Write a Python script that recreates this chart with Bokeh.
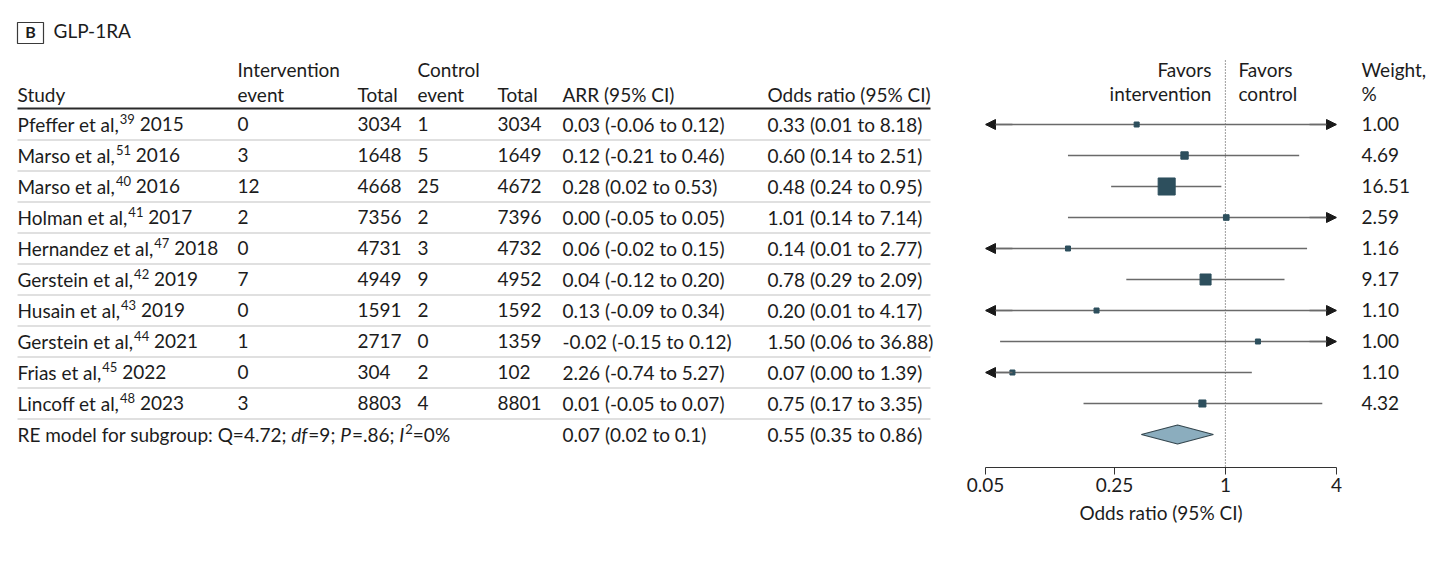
import glob
import os

from bokeh.core.properties import value
from bokeh.embed import file_html
from bokeh.layouts import row
from bokeh.models import Arrow, ColumnDataSource, FixedTicker, NormalHead, Range1d
from bokeh.plotting import figure
from bokeh.resources import INLINE

# ---------------------------------------------------------------- data
study_names = ["Pfeffer et al,", "Marso et al,", "Marso et al,", "Holman et al,",
               "Hernandez et al,", "Gerstein et al,", "Husain et al,",
               "Gerstein et al,", "Frias et al,", "Lincoff et al,"]
study_refs = ["39", "51", "40", "41", "47", "42", "43", "44", "45", "48"]
study_years = ["2015", "2016", "2016", "2017", "2018", "2019", "2019", "2021", "2022", "2023"]
int_events = [0, 3, 12, 2, 0, 7, 0, 1, 0, 3]
int_totals = [3034, 1648, 4668, 7356, 4731, 4949, 1591, 2717, 304, 8803]
ctl_events = [1, 5, 25, 2, 3, 9, 2, 0, 2, 4]
ctl_totals = [3034, 1649, 4672, 7396, 4732, 4952, 1592, 1359, 102, 8801]
arr_est = [0.03, 0.12, 0.28, 0.00, 0.06, 0.04, 0.13, -0.02, 2.26, 0.01]
arr_low = [-0.06, -0.21, 0.02, -0.05, -0.02, -0.12, -0.09, -0.15, -0.74, -0.05]
arr_high = [0.12, 0.46, 0.53, 0.05, 0.15, 0.20, 0.34, 0.12, 5.27, 0.07]
or_est = [0.33, 0.60, 0.48, 1.01, 0.14, 0.78, 0.20, 1.50, 0.07, 0.75]
or_low = [0.01, 0.14, 0.24, 0.14, 0.01, 0.29, 0.01, 0.06, 0.00, 0.17]
or_high = [8.18, 2.51, 0.95, 7.14, 2.77, 2.09, 4.17, 36.88, 1.39, 3.35]
weights = [1.00, 4.69, 16.51, 2.59, 1.16, 9.17, 1.10, 1.00, 1.10, 4.32]

pooled_arr = [0.07, 0.02, 0.1]
pooled_or = [0.55, 0.35, 0.86]
het_q, het_df, het_p, het_i2 = 4.72, 9, ".86", 0

or_ticks = [0.05, 0.25, 1, 4]
or_tick_labels = ["0.05", "0.25", "1", "4"]

# ---------------------------------------------------------------- style
FONT = "Lato"
FS = 19
SUP_FS = 13
INK = "#1c1c1c"
RULE = "#2a2a2a"
SEP = "#d6d6d6"
CI_COL = "#6a6a6a"
BOX_COL = "#2d4f5d"
DIAM_FILL = "#8badbe"
DIAM_LINE = "#34464e"

ROW_PX = 31.0          # row pitch in pixels
ROW0_PX = 124.0        # centre of the first study row
FRAME_H = 467          # plotting frame height (axis line sits at its bottom)
PLOT_H = 563
BOTTOM = PLOT_H - FRAME_H
Y_TOP = -ROW0_PX / ROW_PX
Y_BOT = (FRAME_H - ROW0_PX) / ROW_PX
BASE = 6.7 / ROW_PX    # baseline offset below row centre
TEXT_LIFT = 7.0 / ROW_PX  # renderer places alphabetic baselines this far low


def ry(px):
    """Convert a vertical pixel position into row units."""
    return (px - ROW0_PX) / ROW_PX


def _font_file(patterns):
    roots = ["/usr/share/fonts", "/usr/local/share/fonts",
             os.path.expanduser("~/.fonts"), os.path.expanduser("~/.local/share/fonts")]
    for pat in patterns:
        for root in roots:
            hits = sorted(glob.glob(os.path.join(root, "**", pat), recursive=True))
            if hits:
                return hits[0]
    return None


_font_cache = {}


def text_width(text, size, style="normal"):
    key = (style, size)
    if key not in _font_cache:
        fnt = None
        try:
            from PIL import ImageFont
            pats = ["Lato-Italic.ttf", "Lato*Italic*.ttf"] if style == "italic" else \
                   ["Lato-Regular.ttf", "Lato*Regular*.ttf"]
            path = _font_file(pats)
            if path:
                fnt = ImageFont.truetype(path, size)
        except Exception:
            fnt = None
        _font_cache[key] = fnt
    fnt = _font_cache[key]
    if fnt is None:
        return 0.52 * size * len(text)
    return fnt.getlength(text)


def base_fig(width, x_range, left=0, right=0, **kw):
    p = figure(width=width, height=PLOT_H, x_range=x_range,
               y_range=Range1d(Y_BOT, Y_TOP), toolbar_location=None,
               output_backend="svg", min_border=0, min_border_left=left,
               min_border_right=right, min_border_bottom=BOTTOM,
               y_axis_type=None, **kw)
    p.outline_line_color = None
    p.background_fill_color = "white"
    p.border_fill_color = "white"
    p.grid.visible = False
    return p


def add_text(p, xs, ys, texts, size=FS, align="left", style="normal", color=INK,
             x_offset=0, weight_bold=False):
    src = ColumnDataSource(dict(x=xs, y=[y - TEXT_LIFT for y in ys], t=texts))
    p.text(x="x", y="y", text="t", source=src, text_font=value(FONT),
           text_font_size=value(f"{size}px"),
           text_font_style="bold" if weight_bold else style,
           text_align=align, text_baseline="alphabetic", text_color=color,
           x_offset=x_offset)


n = len(study_names)
rows = list(range(n))
pooled_row = n

# ---------------------------------------------------------------- table panel
TABLE_W = 960
tbl = base_fig(TABLE_W, Range1d(0, TABLE_W), x_axis_type=None)

X_STUDY, X_IEV, X_ITOT, X_CEV, X_CTOT, X_ARR, X_OR, X_END = 17, 237, 357, 417, 497, 562, 767, 930

# panel tag and title
tbl.quad(left=[X_STUDY], right=[43], top=[ry(22)], bottom=[ry(43)],
         fill_color=None, line_color="#3a3a3a", line_width=1.2)
add_text(tbl, [30], [ry(38)], ["B"], size=16, align="center", weight_bold=True)
add_text(tbl, [53], [ry(37)], ["GLP-1RA"], size=19)

# column headings
hdr1 = ry(76)
hdr2 = ry(101)
add_text(tbl, [X_IEV, X_CEV], [hdr1, hdr1], ["Intervention", "Control"])
add_text(tbl, [X_STUDY, X_IEV, X_ITOT, X_CEV, X_CTOT, X_ARR, X_OR], [hdr2] * 7,
         ["Study", "event", "Total", "event", "Total", "ARR (95% CI)", "Odds ratio (95% CI)"])
tbl.segment(x0=[X_STUDY], x1=[X_END], y0=[ry(108)], y1=[ry(108)],
            line_color=RULE, line_width=2)

# row separators
sep_y = [r + 0.5 for r in rows]
tbl.segment(x0=[X_STUDY] * n, x1=[X_END] * n, y0=sep_y, y1=sep_y,
            line_color=SEP, line_width=1.5)

# study labels with superscript reference numbers
name_x, sup_x, year_x = [], [], []
for nm, rf in zip(study_names, study_refs):
    w_name = text_width(nm, FS)
    w_sup = text_width(rf, SUP_FS)
    w_sp = text_width(" ", FS)
    name_x.append(X_STUDY)
    sup_x.append(X_STUDY + w_name + 1)
    year_x.append(X_STUDY + w_name + 1 + w_sup + w_sp)
base_y = [r + BASE for r in rows]
add_text(tbl, name_x, base_y, study_names)
add_text(tbl, sup_x, [b - 4.8 / ROW_PX for b in base_y], study_refs, size=SUP_FS)
add_text(tbl, year_x, base_y, study_years)

# numeric columns
fmt_ci = lambda e, lo, hi: f"{e:.2f} ({lo:.2f} to {hi:.2f})"
add_text(tbl, [X_IEV] * n, base_y, [str(v) for v in int_events])
add_text(tbl, [X_ITOT] * n, base_y, [str(v) for v in int_totals])
add_text(tbl, [X_CEV] * n, base_y, [str(v) for v in ctl_events])
add_text(tbl, [X_CTOT] * n, base_y, [str(v) for v in ctl_totals])
add_text(tbl, [X_ARR] * n, base_y, [fmt_ci(*v) for v in zip(arr_est, arr_low, arr_high)])
add_text(tbl, [X_OR] * n, base_y, [fmt_ci(*v) for v in zip(or_est, or_low, or_high)])

# pooled (random-effects) row
py_base = pooled_row + BASE
segments = [
    (f"RE model for subgroup: Q={het_q}; ", "normal", FS, 0.0),
    ("df", "italic", FS, 0.0),
    (f"={het_df}; ", "normal", FS, 0.0),
    ("P", "italic", FS, 0.0),
    (f"={het_p}; ", "normal", FS, 0.0),
    ("I", "italic", FS, 0.0),
    ("2", "normal", SUP_FS, 4.8),
    (f"={het_i2}%", "normal", FS, 0.0),
]
cx = X_STUDY
for txt, sty, sz, lift in segments:
    add_text(tbl, [cx], [py_base - lift / ROW_PX], [txt], size=sz, style=sty)
    cx += text_width(txt, sz, sty) + (1 if sty == "italic" else 0)
add_text(tbl, [X_ARR], [py_base],
         ["{:g} ({:g} to {:g})".format(*pooled_arr)])
add_text(tbl, [X_OR], [py_base], [fmt_ci(*pooled_or)])

# ---------------------------------------------------------------- forest panel
AX_MIN, AX_MAX = or_ticks[0], or_ticks[-1]
fp = base_fig(390, Range1d(AX_MIN, AX_MAX), left=25, right=14, x_axis_type="log")

# line of no effect
fp.segment(x0=[1], x1=[1], y0=[ry(60)], y1=[Y_BOT], line_color="#555555",
           line_width=1.2, line_dash="1 2")

# confidence intervals, clipped to the axis with arrows where they run off
ci_lo = [max(v, AX_MIN) for v in or_low]
ci_hi = [min(v, AX_MAX) for v in or_high]
fp.segment(x0=ci_lo, x1=ci_hi, y0=rows, y1=rows, line_color=CI_COL, line_width=1.5)

ax0, ax1, ay = [], [], []
for r, lo, hi in zip(rows, or_low, or_high):
    if lo < AX_MIN:
        ax0.append(AX_MIN * 1.4); ax1.append(AX_MIN); ay.append(r)
    if hi > AX_MAX:
        ax0.append(AX_MAX / 1.4); ax1.append(AX_MAX); ay.append(r)
arrow_src = ColumnDataSource(dict(x0=ax0, x1=ax1, y=ay))
fp.add_layout(Arrow(end=NormalHead(size=10, fill_color="#1a1a1a", line_color="#1a1a1a",
                                   line_width=1),
                    x_start="x0", y_start="y", x_end="x1", y_end="y",
                    source=arrow_src, line_color=CI_COL, line_width=1.5))

# study estimates, box area growing with weight
box_sizes = [max(5.0, 3.5 + 0.82 * w) for w in weights]
fp.scatter(x=or_est, y=rows, size=box_sizes, marker="square",
           fill_color=BOX_COL, line_color=BOX_COL)

# pooled estimate diamond
half_h = 9.5 / ROW_PX
fp.patch(x=[pooled_or[1], pooled_or[0], pooled_or[2], pooled_or[0]],
         y=[pooled_row, pooled_row - half_h, pooled_row, pooled_row + half_h],
         fill_color=DIAM_FILL, line_color=DIAM_LINE, line_width=1.2)

# direction captions
add_text(fp, [1, 1], [ry(76), ry(100)], ["Favors", "intervention"], align="right",
         x_offset=-14)
add_text(fp, [1, 1], [ry(76), ry(100)], ["Favors", "control"], align="left",
         x_offset=13)

ax = fp.xaxis[0]
ax.ticker = FixedTicker(ticks=or_ticks)
ax.major_label_overrides = dict(zip(or_ticks, or_tick_labels))
ax.minor_tick_line_color = None
ax.major_tick_in = 0
ax.major_tick_out = 7
ax.axis_line_color = "#333333"
ax.major_tick_line_color = "#333333"
ax.axis_line_width = 1.2
ax.major_label_text_font = FONT
ax.major_label_text_font_size = f"{FS}px"
ax.major_label_text_color = INK
ax.major_label_standoff = 3
ax.axis_label = "Odds ratio (95% CI)"
ax.axis_label_text_font = FONT
ax.axis_label_text_font_size = f"{FS}px"
ax.axis_label_text_font_style = "normal"
ax.axis_label_text_color = INK
ax.axis_label_standoff = 6

# ---------------------------------------------------------------- weight column
wp = base_fig(1456 - TABLE_W - 390, Range1d(0, 106), x_axis_type=None)
add_text(wp, [11, 11], [ry(76), ry(100)], ["Weight,", "%"])
add_text(wp, [11] * n, base_y, [f"{w:.2f}" for w in weights])

layout = row(tbl, fp, wp)
open("out.html", "w").write(file_html(layout, INLINE))
